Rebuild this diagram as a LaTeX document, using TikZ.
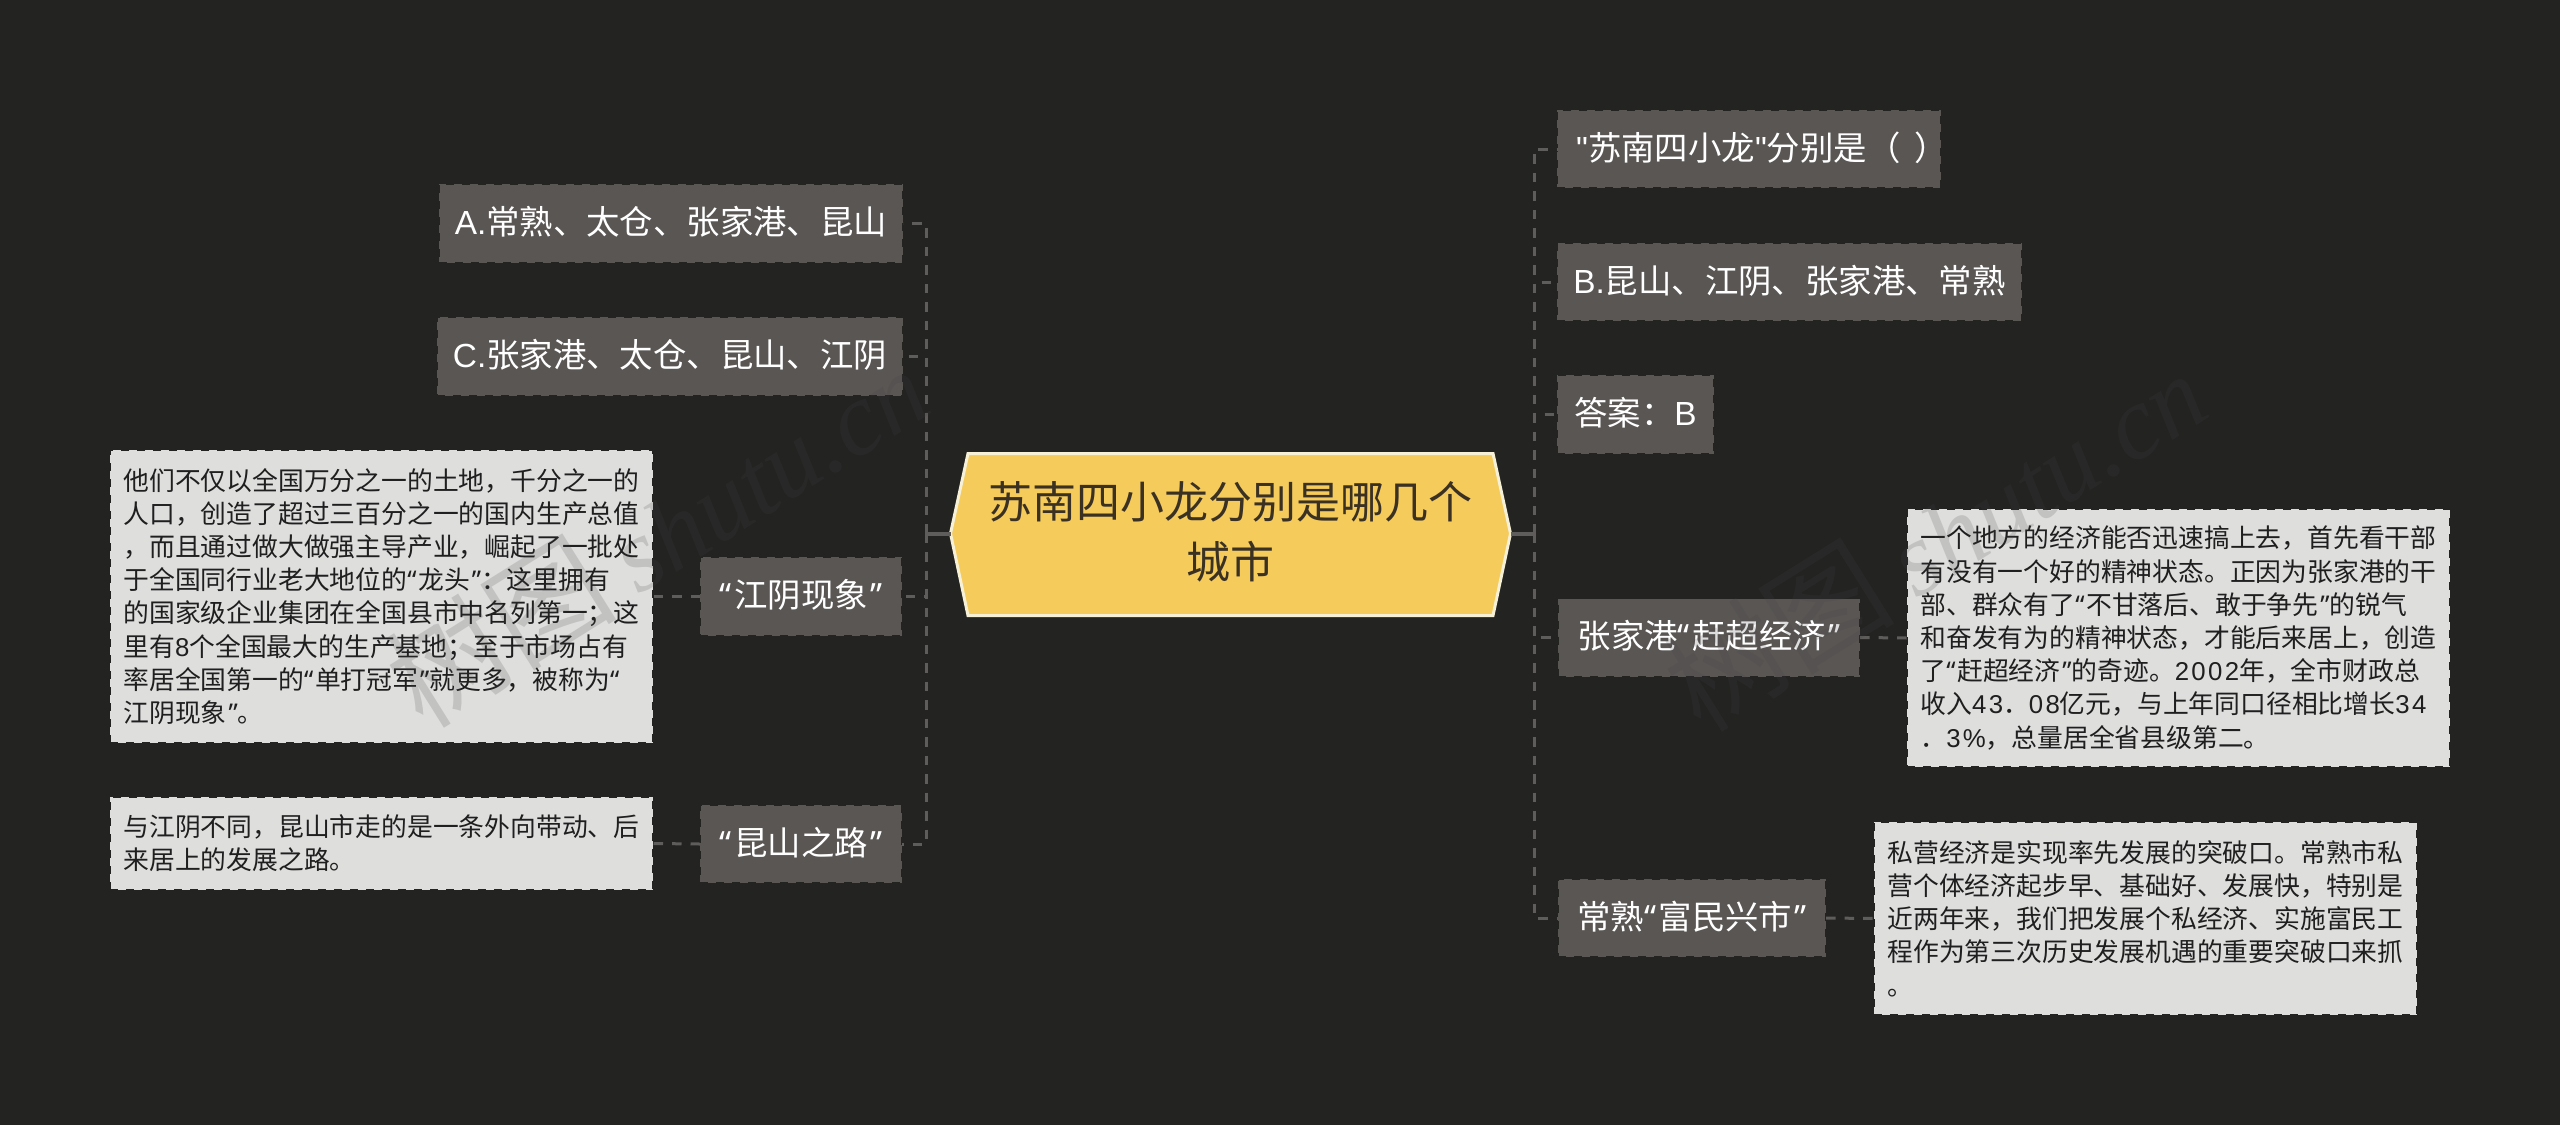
\documentclass[tikz,border=0pt]{standalone}
\usepackage{fontspec}
\setmainfont{Noto Sans CJK SC}
\newfontfamily\qf{Noto Sans}
\newfontfamily\nf[LetterSpace=9]{Liberation Sans}
\newfontfamily\lf{Liberation Sans}
\newfontfamily\wmf{Liberation Serif}
\newcommand{\ql}{{\qf “}\hspace{.07em}}
\newcommand{\qr}{\hspace{.07em}{\qf ”}}
\newcommand{\nm}[1]{{\nf #1}}
\definecolor{bgc}{HTML}{232322}
\definecolor{boxc}{HTML}{595654}
\definecolor{detc}{HTML}{DEDEDD}
\definecolor{rootc}{HTML}{F5CB5C}
\definecolor{rootl}{HTML}{F6F0D6}
\definecolor{roott}{HTML}{3A3123}
\definecolor{linec}{HTML}{5E5D5B}
\definecolor{wmc}{HTML}{444444}
\tikzset{
  topic/.style 2 args={draw=bgc,line width=1.5pt,dash pattern=on 8pt off 8pt,fill=boxc,text=white,
    inner sep=0pt,outer sep=0pt,minimum width=#1 pt,minimum height=#2 pt,
    text height=30pt,text depth=8pt,
    font=\fontsize{33.4}{40}\selectfont},
  detail/.style 2 args={draw=bgc,line width=1.5pt,dash pattern=on 8pt off 8pt,fill=detc,text=black!88,
    inner sep=0pt,outer sep=0pt,minimum width=#1 pt,minimum height=#2 pt,align=left,
    font=\fontsize{25.8}{33.2}\selectfont},
  conn/.style={draw=linec,line width=3pt,dash pattern=on 9.5pt off 9pt},
  stub/.style={draw=linec,line width=4pt},
  wm/.style={text=wmc,opacity=.18,rotate=32,font=\fontsize{104}{110}\selectfont}
}
\begin{document}
\begin{tikzpicture}[x=1pt,y=-1pt]
\useasboundingbox (0,0) rectangle (2560,1125);
\fill[bgc] (0,0) rectangle (2560,1125);
% root
\draw[fill=rootc,draw=rootl,line width=3pt,line join=miter]
  (968,453.5) -- (1493,453.5) -- (1510.5,533.5) -- (1493,615.5) -- (968,615.5) -- (950.5,533.5) -- cycle;
\node[inner sep=0pt,outer sep=0pt,minimum width=560pt,minimum height=165pt,align=center,text=roott,
  font=\fontsize{44}{60}\selectfont] (root) at (1230.5,532) {苏南四小龙分别是哪几个\\城市};
% right branch
\node[topic={384}{78}] (r1) at (1749,149) {\lf"\rmfamily 苏南四小龙\lf"\rmfamily 分别是（\hspace{14pt}）\hspace*{-26pt}};
\node[topic={465}{78}] (r2) at (1789.5,282) {\lf B.\rmfamily 昆山、江阴、张家港、常熟};
\node[topic={157}{79}] (r3) at (1635.5,414.5) {答案：\lf B};
\node[topic={302}{78}] (r4) at (1709,637.5) {张家港\ql 赶超经济\qr};
\node[topic={268}{78}] (r5) at (1692,918) {常熟\ql 富民兴市\qr};
\node[detail={543}{258}] (r4d) at (2178.5,638) {一个地方的经济能否迅速搞上去，首先看干部\\有没有一个好的精神状态。正因为张家港的干\\部、群众有了\ql 不甘落后、敢于争先\qr 的锐气\\和奋发有为的精神状态，才能后来居上，创造\\了\ql 赶超经济\qr 的奇迹。\nm{2002}年，全市财政总\\收入\nm{43}．\nm{08}亿元，与上年同口径相比增长\nm{34}\\．\nm{3\%}，总量居全省县级第二。};
\node[detail={543}{193}] (r5d) at (2145.5,918.5) {私营经济是实现率先发展的突破口。常熟市私\\营个体经济起步早、基础好、发展快，特别是\\近两年来，我们把发展个私经济、实施富民工\\程作为第三次历史发展机遇的重要突破口来抓\\。};
% left branch
\node[topic={464}{79}] (l1) at (671,223.5) {\lf A.\rmfamily 常熟、太仓、张家港、昆山};
\node[topic={466}{79}] (l2) at (670,356.5) {\lf C.\rmfamily 张家港、太仓、昆山、江阴};
\node[topic={202}{79}] (l3) at (801,596.5) {\ql 江阴现象\qr};
\node[topic={202}{78}] (l4) at (801,844) {\ql 昆山之路\qr};
\node[detail={543}{293}] (l3d) at (381.5,596.5) {他们不仅以全国万分之一的土地，千分之一的\\人口，创造了超过三百分之一的国内生产总值\\，而且通过做大做强主导产业，崛起了一批处\\于全国同行业老大地位的\ql 龙头\qr ：这里拥有\\的国家级企业集团在全国县市中名列第一；这\\里有\nm{8}个全国最大的生产基地；至于市场占有\\率居全国第一的\ql 单打冠军\qr 就更多，被称为\ql\\江阴现象\qr 。};
\node[detail={543}{93}] (l4d) at (381.5,843.5) {与江阴不同，昆山市走的是一条外向带动、后\\来居上的发展之路。};
% connectors
\coordinate (rj) at (1534,533.5);
\coordinate (lj) at (926,533.5);
\coordinate (rt) at (1510.5,533.5);
\coordinate (lt) at (950.5,533.5);
\draw[stub] (rt) -- (rj);
\draw[stub] (lt) -- (lj);
\draw[conn] (rj) |- (r1.west);
\draw[conn] (rj) |- (r2.west);
\draw[conn] (rj) |- (r3.west);
\draw[conn] (rj) |- (r4.west);
\draw[conn] (rj) |- (r5.west);
\draw[conn] (lj) |- (l1.east);
\draw[conn] (lj) |- (l2.east);
\draw[conn] (lj) |- (l3.east);
\draw[conn] (lj) |- (l4.east);
\draw[conn] (r4.east) -- (r4d.west);
\draw[conn] (r5.east) -- (r5d.west);
\draw[conn] (l3.west) -- (l3d.east);
\draw[conn] (l4.west) -- (l4d.east);
% watermark
\node[wm] (w1) at (656,533) {{\fontsize{116}{120}\selectfont 树图}\hspace{22pt}{\wmf\itshape shutu.cn}};
\node[wm] (w2) at (1934,537) {{\fontsize{116}{120}\selectfont 树图}\hspace{22pt}{\wmf\itshape shutu.cn}};
\end{tikzpicture}
\end{document}
